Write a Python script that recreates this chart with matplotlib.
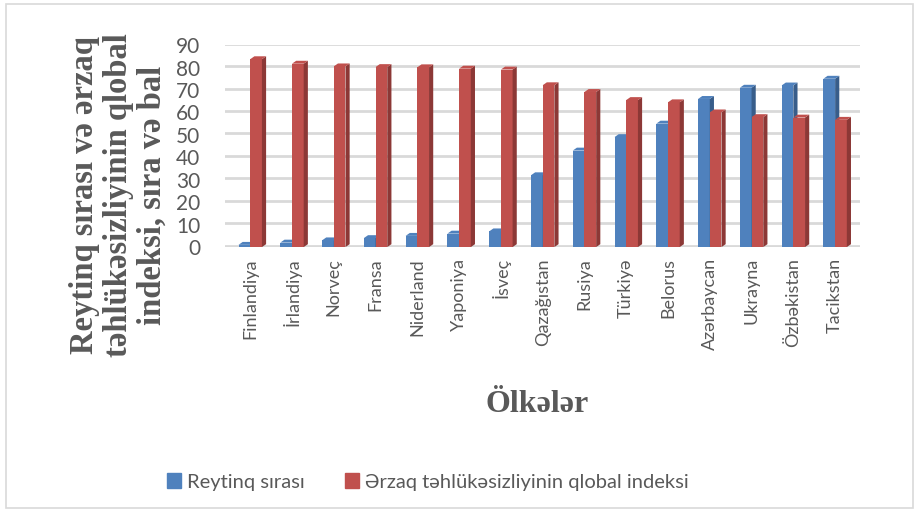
import matplotlib
matplotlib.use("Agg")
import matplotlib.pyplot as plt
from matplotlib.patches import Polygon, Rectangle

# data
countries = ["Finlandiya", "İrlandiya", "Norveç", "Fransa", "Niderland", "Yaponiya", "İsveç",
             "Qazağıstan", "Rusiya", "Türkiyə", "Belorus", "Azərbaycan", "Ukrayna",
             "Özbəkistan", "Tacikstan"]
rank = [1, 2, 3, 4, 5, 6, 7, 32, 43, 49, 55, 66, 71, 72, 75]
index = [83.7, 81.7, 80.5, 80.2, 80.1, 79.5, 79.1, 72.1, 69.1, 65.5, 64.5, 60.0, 57.9, 57.7, 56.7]
series_names = ["Reytinq sırası", "Ərzaq təhlükəsizliyinin qlobal indeksi"]

blue, blue_side = "#4F81BD", "#385D8A"
red, red_side = "#C0504D", "#8C3836"
sans = ["Lato", "DejaVu Sans"]
serif = ["Liberation Serif", "DejaVu Serif"]

fig = plt.figure(figsize=(9.19, 5.18), dpi=100)
fig.patches.append(Rectangle((0.006, 0.02), 0.988, 0.972, transform=fig.transFigure,
                             fill=False, edgecolor="#d9d9d9", linewidth=1.2))
ax = fig.add_axes([0.245, 0.523, 0.691, 0.39])

w = 0.28
dx, dy = 0.1, 1.3  # fake 3d depth

for i in range(10):
    ax.axhline(i * 10 + dy * 0.5, color="#d9d9d9", linewidth=2, zorder=0)


def bar3d(x, h, face, side):
    ax.add_patch(Rectangle((x - w / 2, 0), w, h, facecolor=face, edgecolor="none", zorder=3))
    ax.add_patch(Polygon([(x + w / 2, 0), (x + w / 2 + dx, dy), (x + w / 2 + dx, h + dy), (x + w / 2, h)],
                         facecolor=side, edgecolor="none", zorder=3))
    ax.add_patch(Polygon([(x - w / 2, h), (x - w / 2 + dx, h + dy), (x + w / 2 + dx, h + dy), (x + w / 2, h)],
                         facecolor=face, edgecolor="none", zorder=3))


for i in range(len(countries)):
    bar3d(i - w / 2, rank[i], blue, blue_side)
    bar3d(i + w / 2, index[i], red, red_side)

ax.set_xlim(-0.6, len(countries) - 0.4)
ax.set_ylim(0, 90)
ax.set_yticks(range(0, 100, 10))
ax.set_xticks(range(len(countries)))
ax.set_xticklabels(countries, rotation=90, fontsize=13, color="#595959", family=sans)
for t in ax.get_yticklabels():
    t.set_fontsize(15)
    t.set_color("#595959")
    t.set_family(sans)
ax.tick_params(axis="x", length=0, pad=8)
ax.tick_params(axis="y", length=0, pad=18)
for s in ax.spines.values():
    s.set_visible(False)

fig.text(0.129, 1 - 195 / 518, "Reytinq sırası və ərzaq\ntəhlükəsizliyinin qlobal\nindeksi, sıra və bal",
         rotation=90, ha="center", va="center", multialignment="center",
         fontsize=23.5, fontweight="bold", color="#595959", family=serif, linespacing=1.12)
fig.text(0.585, 1 - 405 / 518, "Ölkələr", ha="center", va="center",
         fontsize=23, fontweight="bold", color="#595959", family=serif)

handles = [Rectangle((0, 0), 1, 1, color=blue), Rectangle((0, 0), 1, 1, color=red)]
fig.legend(handles, series_names, loc="center", bbox_to_anchor=(428 / 919, 1 - 482 / 518), ncol=2,
           frameon=False, handlelength=0.7, handleheight=0.7, handletextpad=0.3, columnspacing=2.0,
           prop={"family": sans, "size": 14.5}, labelcolor="#595959")

fig.savefig("out.png", dpi=100)
